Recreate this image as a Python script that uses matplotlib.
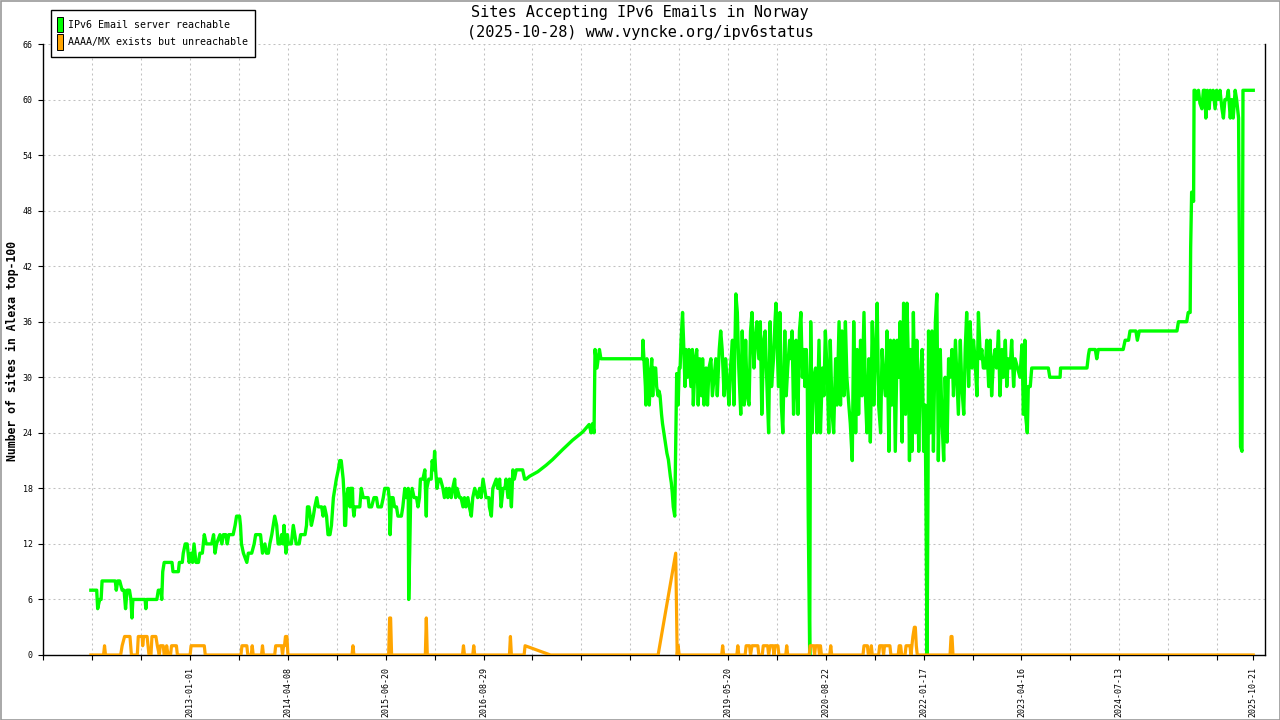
import matplotlib
matplotlib.use('Agg')
import matplotlib.pyplot as plt
from matplotlib.patches import Rectangle
from matplotlib.transforms import ScaledTranslation

# x = sample position (10 units between x ticks), y = number of sites
pos_ok = [
    9.7, 10.9, 11.1, 11.5, 11.8, 12.0, 14.7, 14.9, 15.2, 15.6, 16.1, 16.5, 16.8, 17.1, 17.6, 17.9, 18.1, 18.3,
    20.8, 20.95, 21.1, 23.2, 23.5, 24.0, 24.2, 24.4, 24.7, 26.3, 26.5, 27.6, 27.8, 28.4, 28.6, 29.0, 29.4, 29.8,
    30.2, 30.5, 30.8, 31.2, 31.7, 32.0, 32.5, 32.9, 33.3, 34.4, 34.8, 35.1, 35.4, 36.1, 36.5, 36.8, 37.3, 37.6,
    37.9, 38.8, 39.2, 39.5, 40.1, 40.3, 40.5, 40.9, 41.6, 41.9, 42.6, 43.1, 43.4, 43.9, 44.4, 44.8, 45.3, 45.6,
    46.0, 46.3, 46.7, 47.0, 47.3, 47.7, 48.0, 48.4, 48.7, 49.0, 49.2, 49.6, 49.9, 50.1, 50.7, 51.1, 51.4, 51.7,
    52.3, 52.6, 53.5, 53.8, 54.0, 54.3, 54.8, 55.2, 55.5, 55.9, 56.2, 56.9, 57.2, 57.5, 57.9, 58.2, 58.6,
    58.9, 59.3, 59.6, 59.9, 60.3, 60.6, 60.9, 61.3, 61.5, 61.6, 61.8, 62.0, 62.3, 62.7, 62.8, 63.2, 63.3, 63.5,
    63.7, 64.7, 65.0, 65.4, 66.4, 66.6, 67.1, 67.6, 68.1, 68.4, 68.8, 69.1, 69.5, 69.8, 70.5, 70.7, 70.9, 71.2,
    71.5, 71.8, 72.2, 72.5, 73.2, 73.5, 73.9, 74.2, 74.6, 74.7, 74.9, 75.1, 75.4, 75.8, 76.3, 76.6, 76.9, 77.1,
    77.6, 78.0, 78.3, 78.4, 78.8, 79.3, 79.5, 79.8, 80.0, 80.2, 80.5, 80.8, 81.2, 81.7, 82.0, 82.4, 82.7, 83.0,
    83.4, 83.7, 84.1, 84.3, 84.6, 85.1, 85.4, 85.8, 86.1, 86.4, 86.8, 87.1, 87.5, 87.8, 88.2, 88.8, 89.2, 89.5,
    89.9, 90.2, 90.5, 91.1, 91.2, 91.6, 91.9, 92.6, 92.9, 93.3, 93.6, 94.0, 94.4, 94.6, 95.0, 95.3, 95.7, 96.0,
    96.3, 96.7, 97.2, 98.0, 98.4, 98.7, 99.4, 101.1, 102.8, 104.1, 106.2, 108.2, 110.3, 111.6, 112.0, 112.3,
    112.6, 112.8, 113.2, 113.7, 114.0, 122.5,
    122.6, 122.9, 123.1, 123.2, 123.4, 123.7, 123.9, 124.1, 124.4, 124.6, 124.8, 125.2, 125.4, 125.7, 125.9,
    126.1, 126.4, 126.6, 126.8, 127.1, 127.3, 127.5, 127.8, 128.0, 128.2, 128.4, 128.6, 128.8, 129.1, 129.3,
    129.5, 129.8, 130.0, 130.2, 130.4, 130.7, 130.9, 131.2, 131.4, 131.7, 132.0, 132.4, 132.7, 132.9, 133.3,
    133.6, 133.9, 134.2, 134.6, 134.8, 135.1, 135.5, 135.8, 136.1, 136.5, 136.8, 137.5, 137.8, 138.2, 138.5,
    138.8, 139.2, 139.5, 139.9, 140.2, 140.5, 140.9, 141.2, 141.6, 141.9, 142.2, 142.6, 142.9, 143.3, 143.6,
    143.9, 144.3, 144.6, 144.9, 145.3, 145.6, 145.9, 146.3, 146.6, 146.9, 147.3, 147.6, 147.9, 148.3, 148.6,
    148.9, 149.3, 149.6, 149.8, 150.3, 150.6, 150.9, 151.2, 151.6, 151.9, 152.2, 152.6, 152.9, 153.1, 153.4,
    153.7, 153.9, 154.3, 154.6, 154.9, 155.2, 155.5, 155.7, 156.0, 156.2, 156.4, 156.7,
    156.9, 157.2, 157.5, 157.9, 158.2, 158.6, 158.9, 159.3, 159.6, 159.9, 160.3, 160.6, 160.9, 161.3, 161.6,
    162.0, 162.3, 162.7, 163.0, 163.3, 163.7, 164.0, 164.3, 164.7, 165.0, 165.4, 165.7, 166.1, 166.4, 166.7,
    167.1, 167.4, 167.8, 168.1, 168.4, 168.8, 169.1, 169.5, 169.8, 170.1, 170.5, 170.8, 171.2, 171.5, 171.8,
    172.2, 172.5, 172.9, 173.2, 173.5, 173.9, 174.2, 174.6, 174.9, 175.2, 175.6, 175.9, 176.3, 176.6, 176.9,
    177.1, 177.3, 177.6, 177.9, 178.3, 178.6, 179.0, 179.3, 179.7, 180.0, 180.3, 180.5, 180.7, 180.9, 181.0,
    181.4, 181.7, 182.0, 182.4, 182.7, 183.0, 183.4, 183.7, 184.1, 184.4, 184.8, 185.1, 185.4, 185.8, 186.1,
    186.5, 186.8, 187.1, 187.5, 187.8, 188.2, 188.5, 188.8, 189.2, 189.5, 189.9, 190.2, 190.5, 190.9, 191.2,
    191.6, 191.9, 192.2, 192.6, 192.9, 193.3, 193.6, 193.9, 194.3, 194.6, 194.9, 195.3, 195.6, 196.0, 196.3,
    196.7, 197.0, 197.3, 197.7, 198.0, 198.4, 198.7,
    199.7, 200.1, 200.4, 200.7, 200.9, 201.2, 201.4, 201.8, 202.1, 205.5, 205.8, 207.9, 208.0, 213.4, 213.7,
    213.9, 215.1, 215.4, 215.7, 220.8, 221.2, 221.9, 222.2, 223.4, 223.7, 224.1, 231.8, 232.1, 233.8, 234.1,
    234.5, 234.6, 234.8, 235.2, 235.3, 235.5, 235.8, 236.2, 236.5, 236.9, 237.2, 237.5, 237.7, 238.0, 238.4,
    238.6, 238.9, 239.2, 239.6, 239.9, 240.3, 240.6, 241.0, 241.3, 241.6, 242.0, 242.3, 242.7, 243.0, 243.3,
    243.7, 244.0, 244.4, 244.6, 244.8, 245.1, 245.3, 247.4,
]
sites_ok = [
    7, 7, 5, 6, 6, 8, 8, 7, 8, 8, 7, 7, 5, 7, 7, 6, 4, 6,
    6, 5, 6, 6, 7, 7, 6, 9, 10, 10, 9, 9, 10, 10, 11, 12, 12, 10,
    11, 10, 12, 10, 10, 11, 11, 13, 12, 12, 13, 11, 12, 13, 12, 13, 13, 12,
    13, 13, 14, 15, 15, 14, 12, 11, 10, 11, 11, 12, 13, 13, 13, 11, 12, 11,
    11, 12, 13, 14, 15, 14, 12, 12, 13, 12, 14, 11, 13, 12, 12, 14, 13, 12,
    12, 13, 13, 14, 16, 16, 14, 15, 16, 17, 16, 16, 15, 16, 15, 13, 13,
    14, 17, 18, 19, 20, 21, 21, 19, 17, 14, 14, 17, 18, 16, 18, 18, 16, 15,
    16, 16, 18, 17, 17, 16, 16, 17, 17, 16, 16, 16, 17, 18, 18, 17, 13, 17,
    17, 16, 16, 15, 15, 16, 18, 17, 18, 6, 11, 17, 18, 17, 17, 16, 17, 19,
    19, 20, 15, 18, 19, 19, 21, 20, 22, 20, 18, 19, 19, 18, 17, 18, 17, 18,
    17, 18, 19, 17, 18, 17, 17, 16, 17, 16, 17, 16, 15, 17, 18, 17, 18, 17,
    19, 18, 17, 17, 16, 15, 18, 19, 18, 19, 16, 18, 18, 19, 17, 19, 16, 20,
    19, 20, 20, 20, 19, 19, 19.3, 19.8, 20.5, 21.1, 22.2, 23.2, 24.1, 24.9, 24, 25,
    24, 33, 31, 33, 32, 32,
    34, 31, 29, 27, 32, 30, 27, 30, 32, 28, 31, 31, 29, 28, 28.5,
    28, 26, 25, 24.3, 23.2, 22.5, 21.8, 21.1, 20.2, 19.3, 18.6, 17.5, 16, 15, 22.5,
    30.4, 27, 31, 31, 34, 37, 34, 29, 33, 30, 33, 29, 33, 27, 32,
    33, 27, 32, 28, 32, 27, 31, 27, 31, 32, 28, 32, 28, 33, 35,
    33, 28, 32, 29, 27, 31, 34, 27, 39, 37, 31, 26, 35, 27, 34,
    28, 27, 35, 37, 31, 34, 36, 32, 36, 26, 34, 35, 30, 24, 36,
    29, 32, 36, 38, 29, 37, 27, 24, 35, 28, 31, 34, 32, 35, 26,
    30, 34, 26, 35, 37, 30, 33, 29, 33, 30, 15, 0,
    36, 24, 30, 31, 24, 34, 24, 31, 28, 35, 30, 24, 34, 26, 24,
    32, 27, 36, 27, 35, 28, 36, 30, 27, 25, 21, 36, 24, 33, 26,
    34, 28, 37, 28, 24, 32, 23, 36, 27, 32, 38, 27, 24, 33, 30,
    28, 35, 22, 34, 27, 34, 22, 34, 30, 36, 23, 38, 26, 38, 31,
    21, 33, 22, 37, 24, 34, 22, 30, 33, 22, 27, 15, 0, 19, 35,
    24, 35, 22, 36, 39, 21, 33, 26, 21, 30, 23, 32, 30, 33, 28,
    34, 30, 26, 34, 29, 26, 33, 37, 29, 36, 31, 34, 32, 28, 37,
    32, 33, 31, 31, 34, 29, 34, 28, 32, 33, 31, 35, 28, 33, 30,
    34, 29, 32, 31, 34, 29, 32,
    30, 33.5, 26, 34, 25.6, 24, 29, 29, 31, 31, 30, 30, 31, 31, 32.4,
    33, 33, 32, 33, 33, 34, 34, 35, 35, 34, 35, 35, 36, 36, 37,
    37, 44, 50, 49, 61, 61, 60, 61, 59.6, 59, 61, 61, 58, 61, 59,
    61, 60, 61, 59, 61, 60, 61, 59, 58, 60, 60, 61, 58, 60, 58,
    61, 60, 58, 41, 22.5, 22, 61, 61,
]

pos_bad = [
    9.7, 12.3, 12.5, 12.7, 15.8, 16.1, 16.6, 17.7, 18.0, 19.2, 19.4, 20.2, 20.3, 20.5, 21.2, 21.6, 22.0, 22.2,
    23.0, 23.3, 23.7, 23.9, 24.5, 24.7, 25.0, 25.2, 25.5, 26.0, 26.2, 27.2, 27.4, 30.0, 30.2, 32.9, 33.1,
    40.4, 40.6, 41.6, 41.8, 42.5, 42.7, 42.9, 44.6, 44.8, 45.0, 47.3, 47.5, 48.7, 48.9, 49.1, 49.3, 49.5, 49.8,
    50.0, 63.1, 63.3, 63.5, 70.6, 70.8, 71.0, 71.2, 78.1, 78.3, 78.5, 85.7, 85.9, 86.1, 87.8, 88.0, 88.2,
    95.3, 95.5, 95.7, 98.3, 98.5, 103.7, 125.7, 129.3, 129.6, 129.8, 130.0,
    138.7, 138.9, 139.1, 141.8, 142.0, 142.2, 143.5, 143.7, 144.4, 144.6, 144.9, 146.1, 146.3, 147.0, 147.2,
    148.1, 148.3, 148.6, 149.2, 149.4, 149.6, 150.2, 150.4, 151.8, 152.0, 152.2, 156.6, 156.8, 157.5, 157.7,
    157.9, 158.5, 158.7, 158.9, 159.1, 160.8, 161.0, 161.2, 167.6, 167.8, 168.5, 168.7, 169.1, 169.3, 169.5,
    170.8, 171.0, 171.6, 171.8, 172.0, 173.1, 173.3, 174.8, 175.0, 175.3, 175.5, 176.2, 176.4, 177.2, 177.4,
    177.6, 177.8, 178.1, 178.3, 178.5, 178.7, 185.4, 185.6, 185.8, 186.0, 247.4,
]
sites_bad = [
    0, 0, 1, 0, 0, 1, 2, 2, 0, 0, 2, 2, 1, 2, 2, 0, 0, 2,
    2, 1, 0, 1, 1, 0, 0, 1, 0, 0, 1, 1, 0, 0, 1, 1, 0,
    0, 1, 1, 0, 0, 1, 0, 0, 1, 0, 0, 1, 1, 0, 1, 1, 2, 2,
    0, 0, 1, 0, 0, 4, 4, 0, 0, 4, 0, 0, 1, 0, 0, 1, 0,
    0, 2, 0, 0, 1, 0, 0, 11, 0, 1, 0,
    0, 1, 0, 0, 1, 0, 0, 1, 1, 0, 1, 1, 0, 0, 1,
    1, 0, 1, 1, 0, 1, 1, 0, 0, 1, 0, 0, 1, 1, 0,
    1, 1, 0, 1, 0, 0, 1, 0, 0, 1, 1, 0, 0, 1, 0,
    0, 1, 1, 0, 1, 1, 0, 0, 1, 1, 0, 0, 1, 1, 0,
    1, 2, 3, 3, 1, 0, 0, 2, 2, 0, 0,
]

tick_pos = [30, 50, 70, 90, 140, 160, 180, 200, 220, 247.4]
tick_lbl = ['2013-01-01', '2014-04-08', '2015-06-20', '2016-08-29', '2019-05-20',
            '2020-08-22', '2022-01-17', '2023-04-16', '2024-07-13', '2025-10-21']
legend_lbl = ['IPv6 Email server reachable', 'AAAA/MX exists but unreachable']
green = '#00ff00'
orange = '#ffa500'
mono = 'DejaVu Sans Mono'

W, H = 1280, 720
fig = plt.figure(figsize=(12.8, 7.2), dpi=100)
ax = fig.add_axes([43.4 / W, 65 / H, (1264.5 - 43.4) / W, 611 / H])

ax.plot(pos_ok, sites_ok, color=green, lw=2.4, solid_joinstyle='round', zorder=3)
ax.plot(pos_bad, sites_bad, color=orange, lw=2.3, solid_joinstyle='round', zorder=4)

ax.set_xlim(0, 249.7)
ax.set_ylim(0, 66)
ax.set_yticks(range(0, 67, 6))

major = list(range(0, 250, 10)) + [tick_pos[-1]]
labels = []
for p in major:
    labels.append(tick_lbl[tick_pos.index(p)] if p in tick_pos else '')
ax.set_xticks(major)
ax.set_xticklabels(labels, rotation=90, family=mono, fontsize=6)
for lab in ax.get_xticklabels():
    lab.set_transform(lab.get_transform() + ScaledTranslation(0.085, 0, fig.dpi_scale_trans))
for lab in ax.get_yticklabels():
    lab.set_family(mono)
    lab.set_fontsize(6)

ax.tick_params(axis='both', direction='out', length=3.8, width=0.8, color='black')
ax.tick_params(axis='x', pad=5)
ax.tick_params(axis='y', pad=4)

# sparse dotted grid: ~2px dash, ~3px gap
ax.grid(True, color='#c0c0c0', lw=0.75, linestyle=(0, (1.9, 2.9)))
ax.xaxis.get_gridlines()[-1].set_visible(False)
ax.set_axisbelow(True)

ax.spines['top'].set_visible(False)
for s in ['left', 'bottom', 'right']:
    ax.spines[s].set_linewidth(1.0)
    ax.spines[s].set_color('black')

fig.text(0.5, 1 - 13 / H, 'Sites Accepting IPv6 Emails in Norway', ha='center', va='center',
         family=mono, fontsize=11)
fig.text(0.5, 1 - 32 / H, '(2025-10-28) www.vyncke.org/ipv6status', ha='center', va='center',
         family=mono, fontsize=11)
fig.text(12 / W, 1 - 351 / H, 'Number of sites in Alexa top-100', rotation=90, ha='center',
         va='center', family=mono, fontsize=8.3, fontweight='bold')

# legend box
fig.add_artist(Rectangle((50.5 / W, 1 - 57 / H), 204 / W, 47 / H, transform=fig.transFigure,
                         facecolor='white', edgecolor='black', lw=1.0, zorder=5))
for i, (lbl, col) in enumerate(zip(legend_lbl, [green, orange])):
    top = 17 + i * 17.5
    fig.add_artist(Rectangle((56.5 / W, 1 - (top + 15) / H), 6 / W, 15 / H, transform=fig.transFigure,
                             facecolor=col, edgecolor='black', lw=0.7, zorder=6))
    fig.text(68 / W, 1 - (top + 8) / H, lbl, ha='left', va='center', family=mono, fontsize=7.2, zorder=6)

fig.add_artist(Rectangle((0.5 / W, 0.5 / H), (W - 1) / W, (H - 1) / H, transform=fig.transFigure,
                         fill=False, edgecolor='#999999', lw=1.2, zorder=7))

fig.savefig('out.png', dpi=100)
